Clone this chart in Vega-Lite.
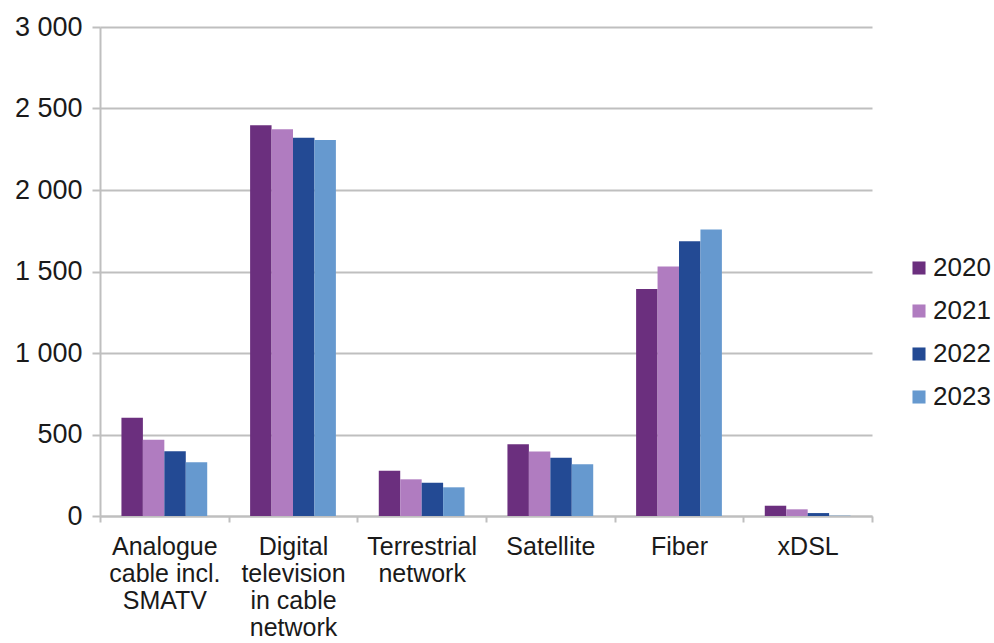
{
  "$schema": "https://vega.github.io/schema/vega-lite/v6.json",
  "width": 772,
  "height": 489,
  "autosize": "none",
  "padding": {"left": 100, "top": 27, "right": 122, "bottom": 127},
  "background": "white",
  "config": {
    "view": {"stroke": null},
    "font": "Liberation Sans",
    "locale": {"number": {"decimal": ",", "thousands": " ", "grouping": [3], "currency": ["", ""]}}
  },
  "data": {
    "values": [
      {"cat": "Analogue|cable incl.|SMATV", "year": "2020", "value": 603},
      {"cat": "Analogue|cable incl.|SMATV", "year": "2021", "value": 468},
      {"cat": "Analogue|cable incl.|SMATV", "year": "2022", "value": 397},
      {"cat": "Analogue|cable incl.|SMATV", "year": "2023", "value": 329},
      {"cat": "Digital|television|in cable|network", "year": "2020", "value": 2397},
      {"cat": "Digital|television|in cable|network", "year": "2021", "value": 2372},
      {"cat": "Digital|television|in cable|network", "year": "2022", "value": 2321},
      {"cat": "Digital|television|in cable|network", "year": "2023", "value": 2307},
      {"cat": "Terrestrial|network", "year": "2020", "value": 278},
      {"cat": "Terrestrial|network", "year": "2021", "value": 225},
      {"cat": "Terrestrial|network", "year": "2022", "value": 204},
      {"cat": "Terrestrial|network", "year": "2023", "value": 176},
      {"cat": "Satellite", "year": "2020", "value": 440},
      {"cat": "Satellite", "year": "2021", "value": 395},
      {"cat": "Satellite", "year": "2022", "value": 358},
      {"cat": "Satellite", "year": "2023", "value": 317},
      {"cat": "Fiber", "year": "2020", "value": 1393},
      {"cat": "Fiber", "year": "2021", "value": 1530},
      {"cat": "Fiber", "year": "2022", "value": 1685},
      {"cat": "Fiber", "year": "2023", "value": 1757},
      {"cat": "xDSL", "year": "2020", "value": 63},
      {"cat": "xDSL", "year": "2021", "value": 41},
      {"cat": "xDSL", "year": "2022", "value": 18},
      {"cat": "xDSL", "year": "2023", "value": 2}
    ]
  },
  "mark": {"type": "bar"},
  "encoding": {
    "x": {
      "field": "cat",
      "type": "nominal",
      "sort": null,
      "scale": {"paddingInner": 0, "paddingOuter": 0},
      "axis": {
        "title": null,
        "labelAngle": 0,
        "labelExpr": "split(datum.label, '|')",
        "labelFontSize": 25,
        "labelLineHeight": 27,
        "labelColor": "#1a1a1a",
        "labelPadding": 12,
        "labelBaseline": "top",
        "tickBand": "extent",
        "tickSize": 6,
        "tickColor": "#BFBFBF",
        "tickWidth": 2,
        "domainColor": "#BFBFBF",
        "domainWidth": 2,
        "grid": false
      }
    },
    "xOffset": {"field": "year", "type": "nominal", "scale": {"paddingInner": 0, "paddingOuter": 1.14}},
    "y": {
      "field": "value",
      "type": "quantitative",
      "scale": {"domain": [0, 3000], "nice": false},
      "axis": {
        "title": null,
        "values": [0, 500, 1000, 1500, 2000, 2500, 3000],
        "format": ",d",
        "labelFontSize": 27,
        "labelColor": "#1a1a1a",
        "labelPadding": 10,
        "tickSize": 8,
        "tickColor": "#BFBFBF",
        "tickWidth": 2,
        "domainColor": "#BFBFBF",
        "domainWidth": 2,
        "gridColor": "#BFBFBF",
        "gridWidth": 2
      }
    },
    "color": {
      "field": "year",
      "type": "nominal",
      "scale": {"domain": ["2020", "2021", "2022", "2023"], "range": ["#6B2F7E", "#B07CC0", "#234A94", "#6699CF"]},
      "legend": {
        "title": null,
        "orient": "none",
        "legendX": 806,
        "legendY": 228,
        "symbolType": "square",
        "symbolSize": 170,
        "symbolStrokeWidth": 0,
        "labelFontSize": 26,
        "labelColor": "#1a1a1a",
        "labelOffset": 1,
        "rowPadding": 17
      }
    }
  }
}
